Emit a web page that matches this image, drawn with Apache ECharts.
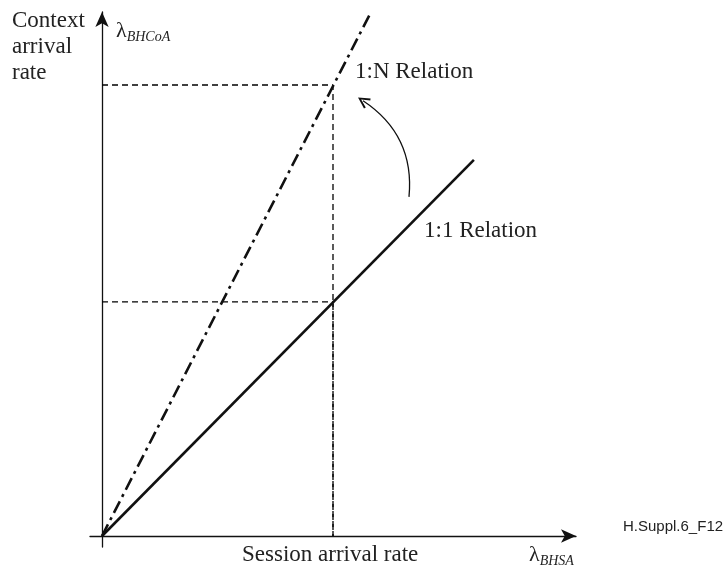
<!DOCTYPE html>
<html><head><meta charset="utf-8">
<script src="https://cdn.jsdelivr.net/npm/echarts@6/dist/echarts.min.js"></script>
<style>html,body{margin:0;padding:0;background:#fff}#c{width:726px;height:571px}</style>
</head><body><div id="c"></div>
<script>
// Data (arbitrary units: session arrival rate at the marked point = 1)
const oneToOneX = [0, 1.61];
const oneToOneY = [0, 1.607];
const oneToNX = [0, 1.16];
const oneToNY = [0, 2.23];
const guideX = [0, 1, 1];
const guideYN = [1.927, 1.927, 0];
const guide1X = [0, 1, 1];
const guide1Y = [1, 1, 0];
const arrowFrom = [1.329, 1.449];
const arrowTo = [1.13, 1.86];
const labels = {
  yTitle: 'Context\narrival\nrate',
  xTitle: 'Session arrival rate',
  n: '1:N Relation',
  one: '1:1 Relation',
  fig: 'H.Suppl.6_F12'
};

const pts = (xs, ys) => xs.map((x, i) => [x, ys[i]]);
const ink = '#111';

const chart = echarts.init(document.getElementById('c'));
chart.setOption({
  animation: false,
  grid: { left: 90, right: 150, top: 12, bottom: 24 },
  xAxis: {
    type: 'value', min: -0.052, max: 2.052,
    axisLine: { show: true, onZero: true, symbol: ['none', 'arrow'], symbolSize: [10, 15], lineStyle: { color: ink, width: 1.3 } },
    axisTick: { show: false }, axisLabel: { show: false }, splitLine: { show: false }
  },
  yAxis: {
    type: 'value', min: -0.047, max: 2.239,
    axisLine: { show: true, onZero: true, symbol: ['none', 'arrow'], symbolSize: [10, 15], lineStyle: { color: ink, width: 1.3 } },
    axisTick: { show: false }, axisLabel: { show: false }, splitLine: { show: false }
  },
  series: [
    { type: 'line', data: pts(guideX, guideYN), symbol: 'none', silent: true,
      lineStyle: { color: '#000', width: 1.3, type: [6, 4] } },
    { type: 'line', data: pts(guide1X, guide1Y), symbol: 'none', silent: true,
      lineStyle: { color: '#000', width: 1.3, type: [6, 4] } },
    { type: 'line', data: pts(oneToOneX, oneToOneY), symbol: 'none',
      lineStyle: { color: ink, width: 2.6 } },
    { type: 'line', data: pts(oneToNX, oneToNY), symbol: 'none',
      lineStyle: { color: ink, width: 2.6, type: [13, 5, 3, 5] } },
    { type: 'lines', coordinateSystem: 'cartesian2d', silent: true,
      symbol: ['none', 'path://M0,10 L5,0 L10,10 L8.4,10.8 L5,3.4 L1.6,10.8 Z'], symbolSize: [13, 12],
      lineStyle: { color: ink, width: 1.3, curveness: -0.3, opacity: 1 },
      itemStyle: { color: ink },
      data: [{ coords: [arrowFrom, arrowTo] }] }
  ],
  graphic: [
    { type: 'text', left: 12, top: 8, style: { text: labels.yTitle, font: '23px "Liberation Serif"', lineHeight: 26, fill: '#222' } },
    { type: 'text', left: 116, top: 20, style: { rich: {
        l: { font: '22px "Liberation Serif"', fill: '#222' },
        s: { font: 'italic 14px "Liberation Serif"', fill: '#222', padding: [12, 0, 0, 0] } },
        text: '{l|λ}{s|BHCoA}' } },
    { type: 'text', left: 355, top: 60, style: { text: labels.n, font: '23px "Liberation Serif"', fill: '#222' } },
    { type: 'text', left: 424, top: 219, style: { text: labels.one, font: '23px "Liberation Serif"', fill: '#222' } },
    { type: 'text', left: 242, top: 543, style: { text: labels.xTitle, font: '23px "Liberation Serif"', fill: '#222' } },
    { type: 'text', left: 529, top: 544, style: { rich: {
        l: { font: '22px "Liberation Serif"', fill: '#222' },
        s: { font: 'italic 14px "Liberation Serif"', fill: '#222', padding: [12, 0, 0, 0] } },
        text: '{l|λ}{s|BHSA}' } },
    { type: 'text', left: 623, top: 519, style: { text: labels.fig, font: '15px "Liberation Sans"', fill: '#222' } }
  ]
});
</script></body></html>
